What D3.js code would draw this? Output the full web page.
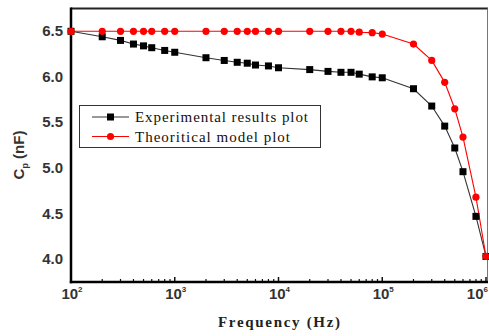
<!DOCTYPE html>
<html><head><meta charset="utf-8">
<script src="https://cdn.jsdelivr.net/npm/d3@7"></script>
<style>body{margin:0;background:#fff}svg{display:block}</style>
</head><body><svg id="c" width="489" height="336"></svg>
<script>
const freqs = [100,200,300,400,500,600,800,1e3,2e3,3e3,4e3,5e3,6e3,8e3,1e4,2e4,3e4,4e4,5e4,6e4,8e4,1e5,2e5,3e5,4e5,5e5,6e5,8e5,1e6];
const experimental = [6.50,6.44,6.40,6.36,6.34,6.32,6.29,6.27,6.21,6.18,6.16,6.15,6.13,6.12,6.10,6.08,6.06,6.05,6.05,6.03,6.00,5.99,5.87,5.68,5.46,5.22,4.96,4.47,4.03];
const theoretical = [6.50,6.50,6.50,6.50,6.50,6.50,6.50,6.50,6.50,6.50,6.50,6.50,6.50,6.50,6.50,6.50,6.50,6.50,6.50,6.49,6.485,6.47,6.36,6.18,5.94,5.65,5.34,4.68,4.03];
const yTicks = [4.0,4.5,5.0,5.5,6.0,6.5];
const xTicks = [1e2,1e3,1e4,1e5,1e6];
const xTickExp = ["2","3","4","5","6"];
const seriesNames = ["Experimental results plot","Theoritical model plot"];

const svg = d3.select("#c");
const L=71, R=486, T=8.5, B=282;
const x = d3.scaleLog().domain([1e2,1e6]).range([L,R]);
const y = d3.scaleLinear().domain([3.75,6.75]).range([B,T]);

// frame
svg.append("line").attr("x1",L).attr("x2",488).attr("y1",T).attr("y2",T).attr("stroke","#222").attr("stroke-width",2);
svg.append("line").attr("x1",487.5).attr("x2",487.5).attr("y1",T).attr("y2",B).attr("stroke","#777").attr("stroke-width",1);

// minor + major ticks on bottom (inward)
const minor = [];
for (let e=2;e<6;e++) for (let m=2;m<10;m++) minor.push(m*Math.pow(10,e));
svg.selectAll(".mn").data(minor).enter().append("line")
  .attr("x1",d=>x(d)).attr("x2",d=>x(d)).attr("y1",B).attr("y2",B-3)
  .attr("stroke","#111").attr("stroke-width",1.2);
svg.selectAll(".mj").data(xTicks).enter().append("line")
  .attr("x1",d=>x(d)).attr("x2",d=>x(d)).attr("y1",B).attr("y2",B-5)
  .attr("stroke","#111").attr("stroke-width",1.5);

svg.append("line").attr("x1",L).attr("x2",L).attr("y1",T-1).attr("y2",B+1.2).attr("stroke","#000").attr("stroke-width",2.5);
svg.append("line").attr("x1",L-1.2).attr("x2",488).attr("y1",B).attr("y2",B).attr("stroke","#000").attr("stroke-width",2.5);

// y tick labels
svg.selectAll(".yl").data(yTicks).enter().append("text")
  .attr("x",63).attr("y",d=>y(d)+5).attr("text-anchor","end")
  .attr("font-family","Liberation Sans, Arial, sans-serif").attr("font-weight","bold")
  .attr("font-size",15).attr("fill","#333").text(d=>d.toFixed(1));

// x tick labels
const xl = svg.selectAll(".xl").data(xTicks).enter().append("text")
  .attr("x",(d,i)=>i===xTicks.length-1 ? 488 : x(d)+1).attr("y",299)
  .attr("text-anchor",(d,i)=>i===xTicks.length-1 ? "end" : "middle")
  .attr("font-family","Liberation Sans, Arial, sans-serif").attr("font-weight","bold")
  .attr("font-size",15).attr("fill","#333");
xl.append("tspan").text("10");
xl.append("tspan").attr("dy",-7).attr("font-size",8).text((d,i)=>xTickExp[i]);

// axis titles
svg.append("text").attr("x",279).attr("y",327).attr("text-anchor","middle")
  .attr("font-family","Liberation Serif, Times New Roman, serif").attr("font-weight","bold")
  .attr("font-size",15).attr("fill","#222").attr("textLength",122).attr("lengthAdjust","spacing")
  .text("Frequency (Hz)");
const yt = svg.append("text").attr("transform","translate(24,155) rotate(-90)").attr("text-anchor","middle")
  .attr("font-family","Liberation Sans, Arial, sans-serif").attr("font-weight","bold")
  .attr("font-size",15).attr("fill","#333");
yt.append("tspan").text("C");
yt.append("tspan").attr("dy",4).attr("font-size",9).text("p");
yt.append("tspan").attr("dy",-4).text(" (nF)");

// series
const line = d3.line().x(d=>x(d[0])).y(d=>y(d[1]));
const expData = freqs.map((f,i)=>[f,experimental[i]]);
const thData = freqs.map((f,i)=>[f,theoretical[i]]);
svg.append("path").datum(expData).attr("d",line).attr("fill","none").attr("stroke","#333").attr("stroke-width",1.1);
svg.append("path").datum(thData).attr("d",line).attr("fill","none").attr("stroke","#f00").attr("stroke-width",1.1);
svg.selectAll(".sq").data(expData).enter().append("rect")
  .attr("x",d=>x(d[0])-3.5).attr("y",d=>y(d[1])-3.5).attr("width",7).attr("height",7).attr("fill","#000");
svg.selectAll(".ci").data(thData).enter().append("circle")
  .attr("cx",d=>x(d[0])).attr("cy",d=>y(d[1])).attr("r",3.6).attr("fill","#f00");

// legend
svg.append("rect").attr("x",79.5).attr("y",105.5).attr("width",241).attr("height",42)
  .attr("fill","#fff").attr("stroke","#333").attr("stroke-width",1);
const rows=[{y:117,c:"#333",m:"sq"},{y:136.5,c:"#f00",m:"ci"}];
rows.forEach((r,i)=>{
  svg.append("line").attr("x1",92).attr("x2",129).attr("y1",r.y).attr("y2",r.y).attr("stroke",r.c).attr("stroke-width",1.1);
  if(r.m==="sq") svg.append("rect").attr("x",107).attr("y",r.y-3.5).attr("width",7).attr("height",7).attr("fill","#000");
  else svg.append("circle").attr("cx",110.5).attr("cy",r.y).attr("r",3.6).attr("fill","#f00");
  svg.append("text").attr("x",135).attr("y",r.y+5).attr("font-family","Liberation Serif, Times New Roman, serif")
    .attr("font-size",15).attr("fill","#111").attr("textLength",i===0?173:155).attr("lengthAdjust","spacing")
    .text(seriesNames[i]);
});
</script></body></html>
